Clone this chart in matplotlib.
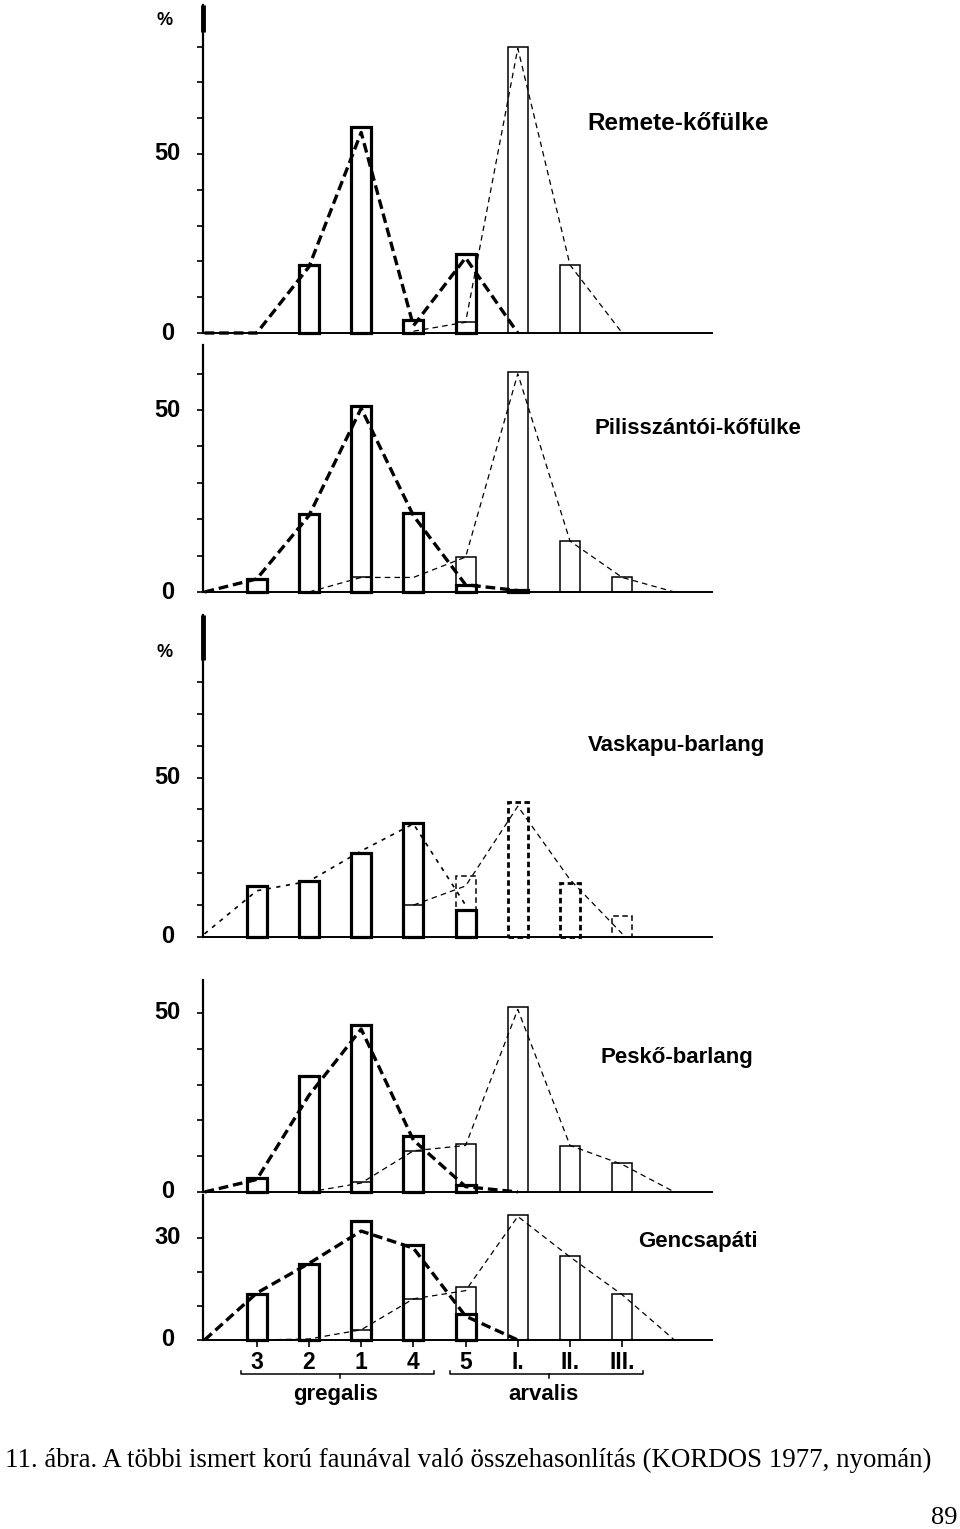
import numpy as np
import matplotlib
matplotlib.use("Agg")
import matplotlib.pyplot as plt
import matplotlib.transforms as mtransforms

plt.rcParams['lines.scale_dashes'] = False
plt.rcParams['font.family'] = ['Liberation Sans', 'DejaVu Sans']

nan = np.nan

# categories along the x axis (3,2,1,4,5 = gregalis, I-III = arvalis)
categories = ['3', '2', '1', '4', '5', 'I.', 'II.', 'III.']
line_x = np.arange(-1, 9)   # polygon lines run one step past each end

# Remete-kőfülke
rem_greg_bars = [nan, 19, 57.5, 3.7, 22, nan, nan, nan]
rem_arv_bars = [nan, nan, nan, nan, 3, 80, 19, nan]
rem_greg_line = [0, 0, 18.5, 56, 2, 21, 0, nan, nan, nan]
rem_arv_line = [nan, nan, nan, nan, 0.5, 3, 79.5, 19, 0, nan]

# Pilisszántói-kőfülke
pil_greg_bars = [3.6, 21.4, 51, 21.7, 2, 0.5, nan, nan]
pil_arv_bars = [nan, nan, 4, nan, 9.6, 60.5, 14, 4]
pil_greg_line = [0, 3.6, 21, 50.5, 21, 2, 0.4, nan, nan, nan]
pil_arv_line = [nan, nan, 0, 4, 4, 9.6, 60, 14, 4, 0]

# Vaskapu-barlang
vas_greg_bars = [16, 17.5, 26.5, 35.7, 8.5, nan, nan, nan]
vas_arv_bars = [nan, nan, nan, 10, 19, 42.5, 17, 6.5]
vas_greg_line = [1, 14.5, 17.5, 27, 35.5, 10, nan, nan, nan, nan]
vas_arv_line = [nan, nan, nan, nan, 10, 16, 41, 18, 1, nan]

# Peskő-barlang
pes_greg_bars = [4, 32.5, 46.6, 15.5, 2, nan, nan, nan]
pes_arv_bars = [nan, nan, 2.7, 11.4, 13.3, 51.6, 12.8, 8]
pes_greg_line = [0, 3.5, 27, 45.5, 14.5, 1.5, 0, nan, nan, nan]
pes_arv_line = [nan, nan, 0, 2.5, 11.5, 13, 51, 13, 7.7, 0]

# Gencsapáti
gen_greg_bars = [13.5, 22.3, 35, 27.8, 7.5, nan, nan, nan]
gen_arv_bars = [nan, nan, 3, 12.1, 15.5, 36.6, 24.6, 13.5]
gen_greg_line = [0, 13.8, 22.5, 32, 27, 7, 0, nan, nan, nan]
gen_arv_line = [nan, 0, 0.3, 3, 12.1, 14.5, 36.3, 24.4, 13.3, 0]

site_names = ['Remete-kőfülke', 'Pilisszántói-kőfülke', 'Vaskapu-barlang',
              'Peskő-barlang', 'Gencsapáti']
groups = ['gregalis', 'arvalis']
group_ranges = [(0, 3), (4, 7)]
caption = "11. ábra. A többi ismert korú faunával való összehasonlítás (KORDOS 1977, nyomán)"

W, H = 960, 1529
fig = plt.figure(figsize=(W / 100, H / 100), dpi=100)
fig.patch.set_facecolor('white')

AX_LEFT, AX_RIGHT = 203, 712
XLIM = (-1.03, 8.72)
BAR_W = 0.38


def add_axes(top, zero):
    return fig.add_axes([AX_LEFT / W, 1 - zero / H, (AX_RIGHT - AX_LEFT) / W, (zero - top) / H])


def bar_outline(ax, x, h, lw, ls='-'):
    ax.add_patch(plt.Rectangle((x - BAR_W / 2, 0), BAR_W, h, fill=False,
                               edgecolor='black', linewidth=lw, linestyle=ls,
                               joinstyle='miter', clip_on=False))


def draw_panel(ax, greg_bars, arv_bars, greg_line, arv_line, ymax, yticks, labels,
               greg_line_thick=True, arv_styles=None, pct_y=None, blob=None):
    ax.set_xlim(*XLIM)
    ax.set_ylim(0, ymax)
    for s in ['top', 'right']:
        ax.spines[s].set_visible(False)
    ax.spines['left'].set_linewidth(1.6)
    ax.spines['bottom'].set_linewidth(1.4)
    ax.set_xticks([])
    ax.set_yticks(yticks)
    ax.set_yticklabels([])
    ax.tick_params(axis='y', direction='out', length=4, width=1.2)

    for i, h in enumerate(greg_bars):
        if not np.isnan(h):
            bar_outline(ax, i, h, 2.3)
    for i, h in enumerate(arv_bars):
        if not np.isnan(h):
            if arv_styles is not None:
                lw, ls = arv_styles[i]
            else:
                lw, ls = 1.1, '-'
            bar_outline(ax, i, h, lw, ls if ls == '-' else (0, (4, 2.5)))

    if greg_line_thick:
        ax.plot(line_x, greg_line, color='black', lw=2.4, dashes=(7, 3.5),
                solid_capstyle='butt', clip_on=False)
    else:
        ax.plot(line_x, greg_line, color='black', lw=1.2, dashes=(3, 4), clip_on=False)
    ax.plot(line_x, arv_line, color='black', lw=0.9, dashes=(4, 3), clip_on=False)

    trans = mtransforms.blended_transform_factory(ax.transAxes, ax.transData)
    for v, lab in labels:
        ax.text(-0.07, v, lab, transform=trans, ha='center', va='center',
                fontsize=17, fontweight='bold')
    if pct_y is not None:
        ax.text(-0.075, pct_y, '%', transform=trans, ha='center', va='center',
                fontsize=13, fontweight='bold')
    if blob is not None:
        ax.plot([0, 0], blob, transform=trans, color='black', lw=3.5,
                solid_capstyle='butt', clip_on=False)


ax1 = add_axes(5, 333)
draw_panel(ax1, rem_greg_bars, rem_arv_bars, rem_greg_line, rem_arv_line, 91.6,
           np.arange(0, 81, 10), [(0, '0'), (50, '50')], pct_y=87.4, blob=(84, 91.6))

ax2 = add_axes(345, 592)
draw_panel(ax2, pil_greg_bars, pil_arv_bars, pil_greg_line, pil_arv_line, 67.9,
           np.arange(0, 61, 10), [(0, '0'), (50, '50')])

vas_styles = [None, None, None, (1.1, '-'), (1.1, '--'), (2.0, '--'), (2.0, '--'), (1.1, '--')]
ax3 = add_axes(615, 937)
draw_panel(ax3, vas_greg_bars, vas_arv_bars, vas_greg_line, vas_arv_line, 101,
           np.arange(0, 81, 10), [(0, '0'), (50, '50')], greg_line_thick=False,
           arv_styles=vas_styles, pct_y=89.3, blob=(87, 101))

ax4 = add_axes(980, 1192)
draw_panel(ax4, pes_greg_bars, pes_arv_bars, pes_greg_line, pes_arv_line, 59.2,
           np.arange(0, 51, 10), [(0, '0'), (50, '50')])

ax5 = add_axes(1195, 1340)
draw_panel(ax5, gen_greg_bars, gen_arv_bars, gen_greg_line, gen_arv_line, 42.6,
           np.arange(0, 31, 10), [(0, '0'), (30, '30')])
ax5.set_xticks(np.arange(len(categories)))
ax5.set_xticklabels(categories, fontsize=16.5, fontweight='bold')
ax5.tick_params(axis='x', direction='out', length=5, width=1.2, pad=3)

# braces under the category labels
for name, (a, b) in zip(groups, group_ranges):
    x0, x1 = a - 0.3, b + 0.4
    mid = (a + b) / 2 + 0.1
    ax5.plot([x0, x0, x1, x1], [-9.2, -10.1, -10.1, -9.2], color='black', lw=1.1, clip_on=False)
    ax5.plot([mid, mid], [-10.1, -11.2], color='black', lw=1.1, clip_on=False)
    ax5.text((a + b) / 2, -16.1, name, ha='center', va='center', fontsize=16,
             fontweight='bold')

# site names
title_pos = [(587, 124), (595, 428), (588, 746), (600, 1058), (638, 1242)]
title_size = [17.5, 16, 16, 16, 16]
for name, (x, y), fs in zip(site_names, title_pos, title_size):
    fig.text(x / W, 1 - y / H, name, ha='left', va='center', fontsize=fs, fontweight='bold')

# caption, scaled to the printed width
cap = fig.text(5 / W, 1 - 1460 / H, caption, ha='left', va='center',
               fontsize=20, family='Liberation Serif')
fig.canvas.draw()
w = cap.get_window_extent().width
cap.set_fontsize(20 * 930 / w)
fig.text(957 / W, 1 - 1518 / H, '89', ha='right', va='center', fontsize=19,
         family='Liberation Serif')

fig.savefig('out.png', dpi=100, facecolor='white')
